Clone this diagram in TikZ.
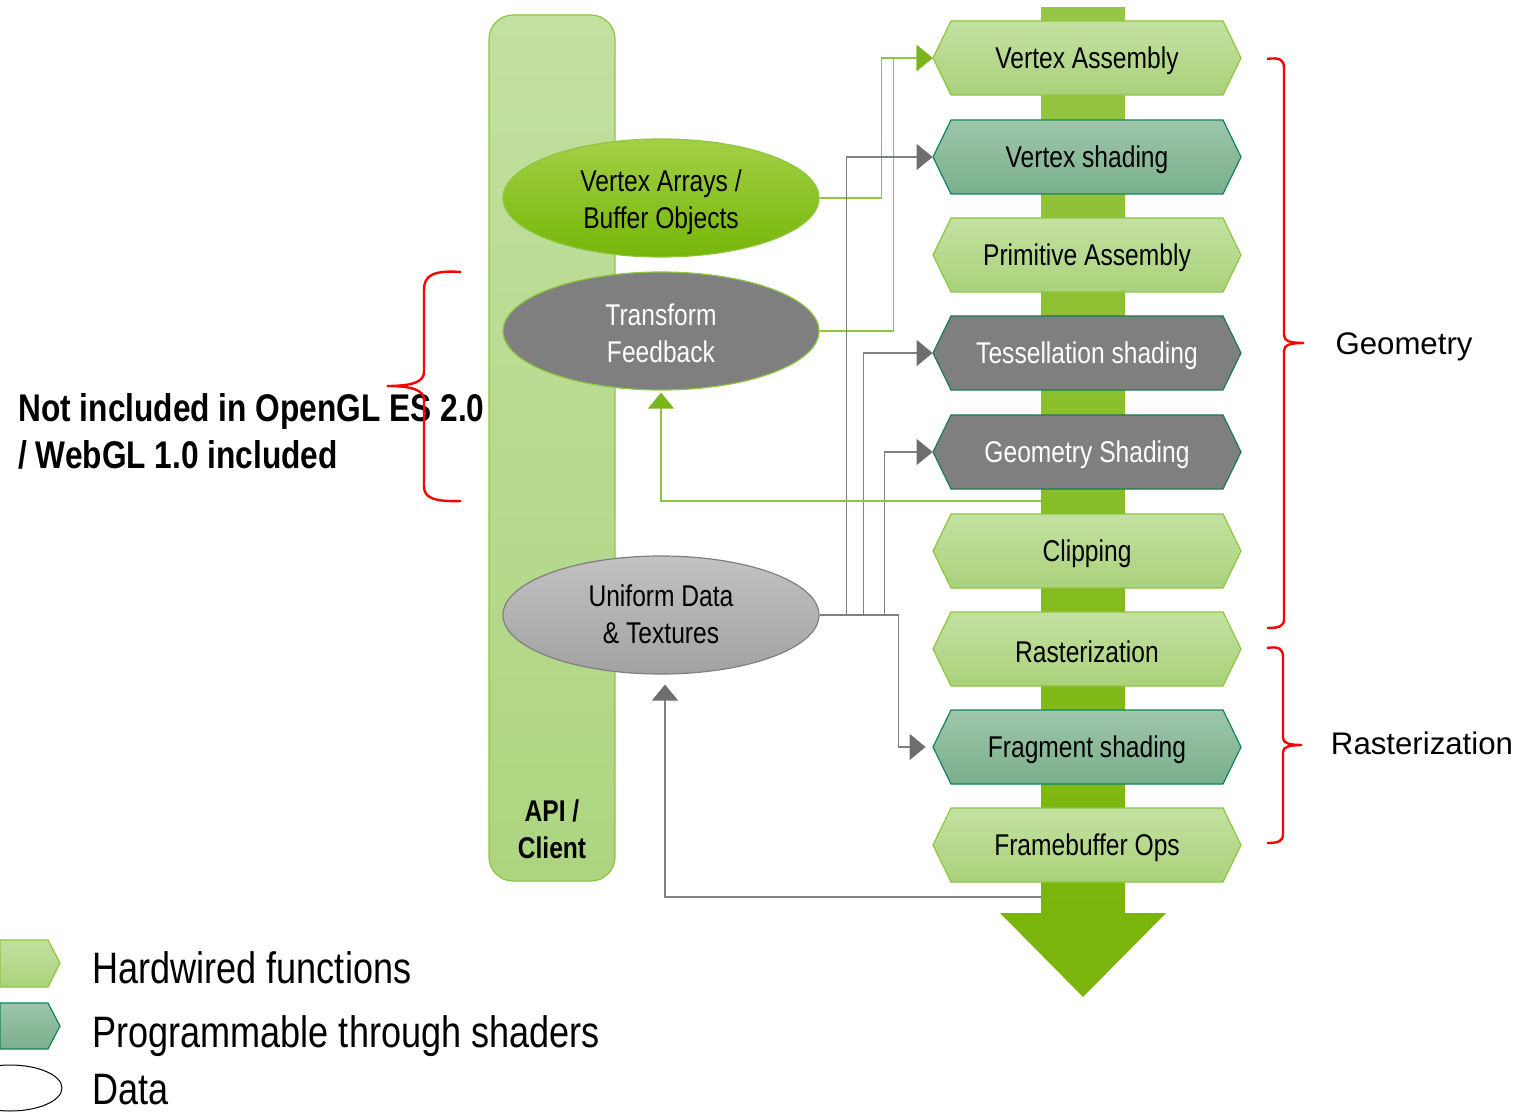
\documentclass[tikz,border=0pt]{standalone}
\usepackage{fontspec}
\setmainfont{Liberation Sans}
\newfontfamily\narrowfont[FakeStretch=0.82]{Liberation Sans}
\usetikzlibrary{arrows.meta,shapes.geometric}

\definecolor{hwTop}{HTML}{C3E1A1}
\definecolor{hwBot}{HTML}{A9D27B}
\definecolor{hwLine}{HTML}{8DC63F}
\definecolor{prTop}{HTML}{9DC6AA}
\definecolor{prBot}{HTML}{7AAF8D}
\definecolor{prLine}{HTML}{11855A}
\definecolor{gyFill}{HTML}{7F7F7F}
\definecolor{gyLine}{HTML}{1E7A52}
\definecolor{vaoTop}{HTML}{A2D046}
\definecolor{vaoBot}{HTML}{76B608}
\definecolor{udTop}{HTML}{C2C2C2}
\definecolor{udBot}{HTML}{A2A2A2}
\definecolor{udLine}{HTML}{7F7F7F}
\definecolor{apiTop}{HTML}{C2E0A0}
\definecolor{apiBot}{HTML}{ADD580}
\definecolor{pipeTop}{HTML}{96C646}
\definecolor{pipeBot}{HTML}{7BB50B}
\definecolor{linkGreen}{HTML}{8DC63F}
\definecolor{tipGreen}{HTML}{7AB51D}
\definecolor{linkGray}{HTML}{808080}
\definecolor{tipGray}{HTML}{6E6E70}
\definecolor{braceRed}{HTML}{FF0000}

\tikzset{
  x=0.5pt, y=-0.5pt,
  stagetext/.style={rectangle, minimum width=154pt, minimum height=37pt,
    inner sep=0pt, font=\narrowfont\fontsize{15pt}{18pt}\selectfont},
  hwshape/.style={top color=hwTop, bottom color=hwBot, draw=hwLine, line width=0.6pt},
  prshape/.style={top color=prTop, bottom color=prBot, draw=prLine, line width=0.6pt},
  gyshape/.style={fill=gyFill, draw=gyLine, line width=0.6pt},
  dataset/.style={ellipse, minimum width=158pt, minimum height=59pt, inner sep=0pt},
  datalabel/.style={align=center, inner sep=0pt,
    font=\narrowfont\fontsize{15pt}{18.5pt}\selectfont},
  glink/.style={draw=linkGreen, line width=0.7pt},
  ylink/.style={draw=linkGray, line width=0.75pt},
  gtip/.style={-{Triangle[length=8pt,width=13pt,color=tipGreen]}},
  ytip/.style={-{Triangle[length=8pt,width=13pt,color=tipGray]}},
  bracestroke/.style={draw=braceRed, line width=1.2pt},
  legendtext/.style={anchor=west, inner sep=0pt, font=\narrowfont\fontsize{22pt}{26pt}\selectfont},
}

% one stage of the pipeline: name, centre y, label, shape style, text colour
\newcommand{\pipestage}[5]{%
  \path[#4] (933,#2) -- (951,{#2-37}) -- (1223,{#2-37}) -- (1241,#2)
        -- (1223,{#2+37}) -- (951,{#2+37}) -- cycle;
  \node[stagetext] (#1) at (1087,#2) {};
  \node[stagetext, text=#5] at (1087,{#2+3}) {#3};
}

\begin{document}
\begin{tikzpicture}
\useasboundingbox (0,0) rectangle (1520,1112);

% client side column
\path[top color=apiTop, bottom color=apiBot, draw=hwLine, line width=0.6pt,
      rounded corners=12pt] (489,15) rectangle (615,881);
\node[align=center, font=\narrowfont\bfseries\fontsize{15pt}{18.5pt}\selectfont]
  (api) at (552,829) {API /\\Client};

% pipeline flow
\path[top color=pipeTop, bottom color=pipeBot] (1041,8) rectangle (1125,914);
\fill[pipeBot] (1000,913) -- (1166,913) -- (1083,997) -- cycle;

% data sources
\node[dataset, top color=vaoTop, bottom color=vaoBot, draw=hwLine, line width=0.6pt]
  (vao) at (661,198) {};
\node[datalabel] at (661,202) {Vertex Arrays /\\Buffer Objects};
\node[dataset, fill=gyFill, draw=hwLine, line width=0.6pt] (tf) at (661,331) {};
\node[datalabel, text=white] at (661,333) {Transform\\Feedback};
\node[dataset, top color=udTop, bottom color=udBot, draw=udLine, line width=0.6pt]
  (ud) at (661,615) {};
\node[datalabel] at (661,614) {Uniform Data\\\& Textures};

% pipeline stages
\pipestage{va}{58}{Vertex Assembly}{hwshape}{black}
\pipestage{vs}{157}{Vertex shading}{prshape}{black}
\pipestage{pa}{255}{Primitive Assembly}{hwshape}{black}
\pipestage{ts}{353}{Tessellation shading}{gyshape}{white}
\pipestage{gs}{452}{Geometry Shading}{gyshape}{white}
\pipestage{cl}{551}{Clipping}{hwshape}{black}
\pipestage{ra}{649}{Rasterization}{hwshape}{black}
\pipestage{fs}{747}{Fragment shading}{prshape}{black}
\pipestage{fb}{845}{Framebuffer Ops}{hwshape}{black}

% feed points on the flow
\coordinate (gsout) at (1041,501);
\coordinate (fbout) at (1041,897);

% vertex input
\draw[glink, gtip] (vao.east) -- ++(62,0) |- (va.west);
\draw[glink, gtip] (tf.east) -- ++(74,0) |- (va.west);

% uniforms and textures into the shader stages
\draw[ylink, ytip] (ud.east) -- ++(27,0) |- (vs.west);
\draw[ylink, ytip] (ud.east) -- ++(44,0) |- (ts.west);
\draw[ylink, ytip] (ud.east) -- ++(65,0) |- (gs.west);
\draw[ylink, ytip, shorten >=3.5pt] (ud.east) -- ++(79,0) |- (fs.west);

% feedback paths
\draw[glink, gtip, shorten >=1pt] (gsout) -| (tf.south);
\draw[ylink, ytip, shorten >=5pt] (fbout) -| ([xshift=2pt]ud.south);

% annotations
\node[anchor=west, align=left, inner sep=0pt,
      font=\narrowfont\bfseries\fontsize{19.3pt}{23.5pt}\selectfont]
  (note) at (18,431) {Not included in OpenGL ES 2.0\\/ WebGL 1.0 included};
\draw[bracestroke] (461,272) .. controls (432,270) and (424,276) .. (424,290)
  -- (424,372) .. controls (424,382) and (412,386) .. (387,386)
  .. controls (412,386) and (424,390) .. (424,400)
  -- (424,486) .. controls (424,497) and (432,502) .. (461,501);

\draw[bracestroke] (1267,59) .. controls (1280,57) and (1284,60) .. (1284,68)
  -- (1284,335) .. controls (1284,341) and (1290,343) .. (1304,343)
  .. controls (1290,343) and (1284,345) .. (1284,351)
  -- (1284,619) .. controls (1284,626) and (1280,628) .. (1267,628);
\node[font=\fontsize{15.6pt}{18pt}\selectfont] (geo) at (1404,347) {Geometry};

\draw[bracestroke] (1267,648) .. controls (1279,646) and (1283,649) .. (1283,657)
  -- (1283,738) .. controls (1283,743) and (1289,745) .. (1302,745)
  .. controls (1289,745) and (1283,747) .. (1283,752)
  -- (1283,834) .. controls (1283,841) and (1279,843) .. (1267,843);
\node[font=\fontsize{15.6pt}{18pt}\selectfont] (ras) at (1422,743) {Rasterization};

% legend
\path[hwshape] (0,940) -- (48,940) -- (60,963) -- (48,987) -- (0,987) -- cycle;
\path[prshape] (0,1003) -- (48,1003) -- (60,1026) -- (48,1049) -- (0,1049) -- cycle;
\draw[black, line width=0.5pt] (10,1088) ellipse [x radius=26pt, y radius=11.5pt];
\node[legendtext] (lhw) at (92,968) {Hardwired functions};
\node[legendtext] (lpr) at (92,1036) {Programmable through shaders};
\node[legendtext] (lda) at (92,1090) {Data};
\end{tikzpicture}
\end{document}
